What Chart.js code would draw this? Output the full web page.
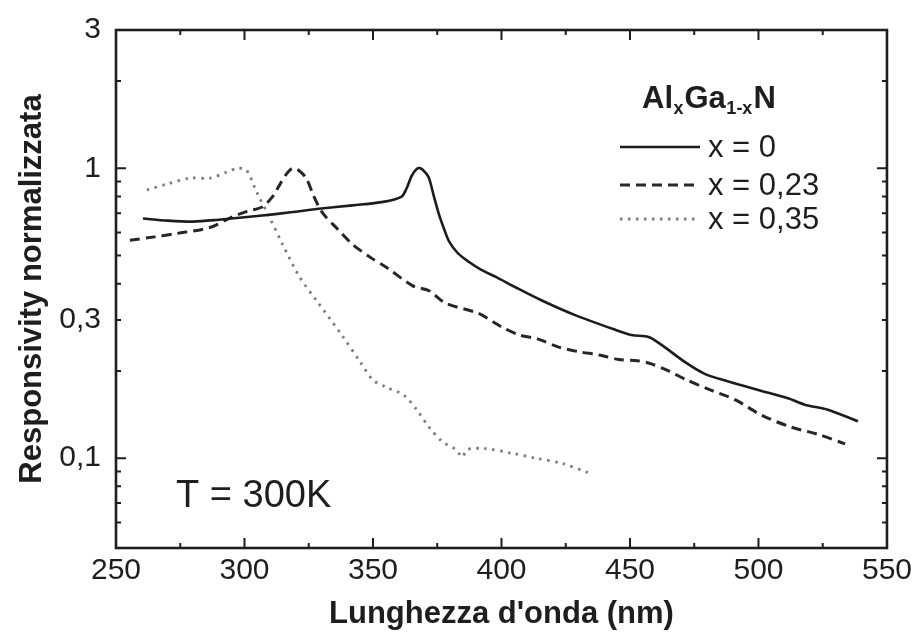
<!DOCTYPE html>
<html>
<head>
<meta charset="utf-8">
<script src="https://cdn.jsdelivr.net/npm/chart.js@4/dist/chart.umd.min.js"></script>
<style>
html,body{margin:0;padding:0;background:#fff;}
canvas{display:block;}
</style>
</head>
<body>
<canvas id="c" width="920" height="633"></canvas>
<script>
// ---- data ----
const wavelengthX0 = [260.5, 270, 280, 290, 306, 318, 329, 342, 354, 361, 363, 365, 367, 368.5, 370.5, 371.8, 373.7, 375.7, 377.6, 379.6, 383, 387.4, 392, 397.8, 405.6, 415.7, 428.9, 444.4, 450.6, 457.2, 462.3, 471.6, 479.3, 488.3, 499.9, 511.5, 518, 527, 538.7];
const respX0       = [0.671, 0.66, 0.655, 0.665, 0.686, 0.705, 0.725, 0.745, 0.766, 0.797, 0.85, 0.94, 0.995, 1.0, 0.965, 0.925, 0.8, 0.692, 0.62, 0.56, 0.51, 0.475, 0.447, 0.422, 0.388, 0.35, 0.311, 0.277, 0.266, 0.262, 0.246, 0.214, 0.195, 0.184, 0.172, 0.161, 0.153, 0.147, 0.134];

const wavelengthX23 = [255.4, 265, 273.7, 286.5, 295.4, 301, 307, 311, 313.6, 316.5, 318.7, 321, 324, 327, 330.3, 336, 342, 349.7, 355, 365.3, 371.8, 378.4, 391, 400, 407, 414, 422, 430, 438, 445.6, 453, 458, 465, 471.6, 480.5, 491, 501, 512.7, 523, 533.7];
const respX23       = [0.565, 0.58, 0.596, 0.625, 0.681, 0.71, 0.737, 0.8, 0.875, 0.96, 1.0, 0.985, 0.925, 0.8, 0.703, 0.62, 0.547, 0.488, 0.457, 0.394, 0.378, 0.342, 0.316, 0.284, 0.266, 0.258, 0.242, 0.233, 0.227, 0.219, 0.217, 0.212, 0.2, 0.187, 0.173, 0.159, 0.141, 0.128, 0.121, 0.112];

const wavelengthX35 = [262, 269.8, 278.7, 286.5, 293, 297.3, 300.8, 304.7, 309.8, 314.8, 321.4, 328, 338.1, 345, 350, 355, 362, 367, 371.8, 377, 382.3, 384.7, 386.6, 393.2, 404, 413.4, 423.5, 434];
const respX35       = [0.842, 0.882, 0.925, 0.925, 0.969, 1.0, 0.984, 0.829, 0.676, 0.547, 0.422, 0.35, 0.264, 0.215, 0.186, 0.176, 0.165, 0.147, 0.128, 0.114, 0.107, 0.101, 0.107, 0.108, 0.104, 0.1, 0.096, 0.089];

const seriesLabels = ['x = 0', 'x = 0,23', 'x = 0,35'];
const xTickValues = [250, 275, 300, 325, 350, 375, 400, 425, 450, 475, 500, 525, 550];
const xTickLabels = {250: '250', 300: '300', 350: '350', 400: '400', 450: '450', 500: '500', 550: '550'};
const yTickValues = [0.06, 0.07, 0.08, 0.09, 0.1, 0.2, 0.3, 0.4, 0.5, 0.6, 0.7, 0.8, 0.9, 1, 2, 3];
const yTickLabels = {'0.1': '0,1', '0.3': '0,3', '1': '1', '3': '3'};
const xTitle = "Lunghezza d'onda (nm)";
const yTitle = 'Responsivity normalizzata';
const noteText = 'T = 300K';

// ---- build ----
const FONT = "'Liberation Sans', Arial, Helvetica, sans-serif";
const INK = '#1e1e1e';
const toXY = (xs, ys) => xs.map((x, i) => ({x: x, y: ys[i]}));

const decoPlugin = {
  id: 'deco',
  afterDraw(chart) {
    const {ctx, chartArea: a, scales} = chart;
    const xs = scales.x, ys = scales.y;
    ctx.save();
    ctx.strokeStyle = INK;
    // inward tick marks on all four sides
    ctx.lineWidth = 2;
    xTickValues.forEach(v => {
      if (v === xs.min || v === xs.max) return;
      const px = xs.getPixelForValue(v);
      const len = (v % 50 === 0) ? 10 : 5;
      ctx.beginPath();
      ctx.moveTo(px, a.bottom); ctx.lineTo(px, a.bottom - len);
      ctx.moveTo(px, a.top); ctx.lineTo(px, a.top + len);
      ctx.stroke();
    });
    yTickValues.forEach(v => {
      const py = ys.getPixelForValue(v);
      if (py <= a.top + 1 || py >= a.bottom - 1) return;
      const lg = Math.log10(v);
      const len = (Math.abs(lg - Math.round(lg)) < 1e-6) ? 10 : 5;
      ctx.beginPath();
      ctx.moveTo(a.left, py); ctx.lineTo(a.left + len, py);
      ctx.moveTo(a.right, py); ctx.lineTo(a.right - len, py);
      ctx.stroke();
    });
    // frame
    ctx.lineWidth = 2.6;
    ctx.strokeRect(a.left, a.top, a.right - a.left, a.bottom - a.top);

    // note text
    ctx.fillStyle = INK;
    ctx.textBaseline = 'alphabetic';
    ctx.textAlign = 'left';
    ctx.font = '38px ' + FONT;
    ctx.fillText(noteText, a.left + 60, a.bottom - 41);

    // legend title Al_x Ga_1-x N
    let tx = a.left + 526;
    const tb = 108;
    const parts = [['Al', false], ['x', true], ['Ga', false], ['1-x', true], ['N', false]];
    parts.forEach(([t, sub]) => {
      ctx.font = (sub ? 'bold 18px ' : 'bold 31px ') + FONT;
      ctx.fillText(t, tx, sub ? tb + 6 : tb);
      tx += ctx.measureText(t).width + (sub ? 1 : 0.5);
    });

    // legend entries
    const rows = [147, 185, 219];
    chart.data.datasets.forEach((ds, i) => {
      const y = rows[i];
      ctx.save();
      ctx.strokeStyle = ds.borderColor;
      ctx.lineWidth = ds.borderWidth;
      ctx.setLineDash(ds.borderDash || []);
      ctx.beginPath();
      ctx.moveTo(a.left + 504, y);
      ctx.lineTo(a.left + 584, y);
      ctx.stroke();
      ctx.restore();
      ctx.fillStyle = INK;
      ctx.font = '31px ' + FONT;
      ctx.textBaseline = 'middle';
      ctx.fillText(ds.label, a.left + 592, y + 1);
    });
    ctx.restore();
  }
};

new Chart(document.getElementById('c').getContext('2d'), {
  type: 'line',
  data: {
    datasets: [
      {label: seriesLabels[0], data: toXY(wavelengthX0, respX0), borderColor: '#1c1c1c', borderWidth: 2.6, pointRadius: 0, tension: 0.3, fill: false},
      {label: seriesLabels[1], data: toXY(wavelengthX23, respX23), borderColor: '#262626', borderWidth: 3, borderDash: [10, 6], pointRadius: 0, tension: 0.3, fill: false},
      {label: seriesLabels[2], data: toXY(wavelengthX35, respX35), borderColor: '#7c7c7c', borderWidth: 2.8, borderDash: [2.5, 5.5], pointRadius: 0, tension: 0.3, fill: false}
    ]
  },
  options: {
    responsive: false,
    animation: false,
    events: [],
    layout: {padding: {top: 23, right: 31, left: 0, bottom: 0}},
    plugins: {legend: {display: false}, tooltip: {enabled: false}},
    scales: {
      x: {
        type: 'linear', min: 250, max: 550,
        afterBuildTicks: s => { s.ticks = xTickValues.map(v => ({value: v})); },
        afterFit: s => { s.height = 85; },
        ticks: {autoSkip: false, maxRotation: 0, padding: 8, color: INK,
                font: {family: FONT, size: 30, lineHeight: 1},
                callback: v => xTickLabels[v] || ''},
        grid: {display: false, drawTicks: false},
        border: {display: false},
        title: {display: true, text: xTitle, color: INK, padding: {top: 0, bottom: 0},
                font: {family: FONT, size: 31, weight: 'bold', lineHeight: 1.2}}
      },
      y: {
        type: 'logarithmic', min: 0.049, max: 3,
        afterBuildTicks: s => { s.ticks = yTickValues.map(v => ({value: v})); },
        afterFit: s => { s.width = 116; },
        ticks: {autoSkip: false, padding: 15, color: INK,
                font: {family: FONT, size: 30, lineHeight: 1},
                callback: v => yTickLabels[String(v)] || ''},
        grid: {display: false, drawTicks: false},
        border: {display: false},
        title: {display: true, text: yTitle, color: INK, padding: {top: 14, bottom: 0},
                font: {family: FONT, size: 31, weight: 'bold', lineHeight: 1.2}}
      }
    }
  },
  plugins: [decoPlugin]
});
</script>
</body>
</html>
